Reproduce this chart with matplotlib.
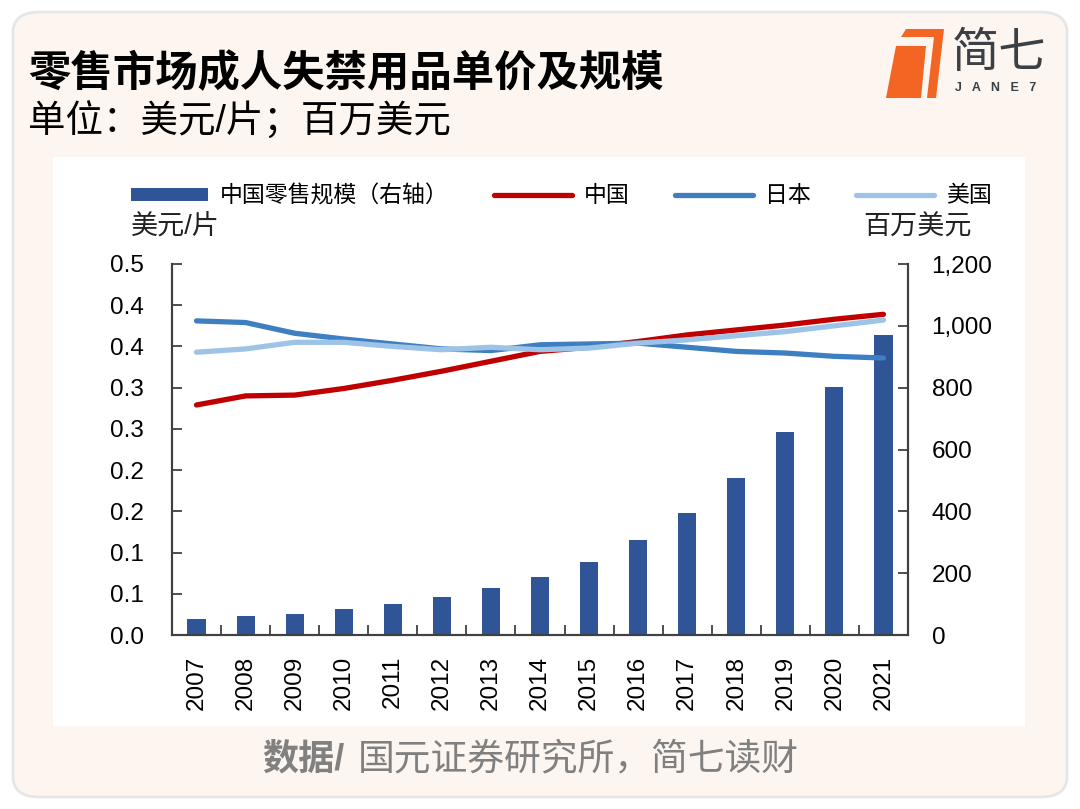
import matplotlib
matplotlib.use("Agg")
import matplotlib.pyplot as plt
from matplotlib.patches import FancyBboxPatch, Rectangle, Polygon
from matplotlib.ticker import FixedLocator, FixedFormatter, FuncFormatter

plt.rcParams['font.family'] = ['Liberation Sans', 'Noto Sans CJK SC', 'DejaVu Sans']

# 数据
years = ['2007', '2008', '2009', '2010', '2011', '2012', '2013', '2014',
         '2015', '2016', '2017', '2018', '2019', '2020', '2021']
retail_scale = [52, 61, 68, 83, 100, 123, 151, 187, 236, 306, 396, 508, 657, 801, 970]
price_china = [0.279, 0.290, 0.291, 0.299, 0.309, 0.320, 0.332, 0.344,
               0.349, 0.356, 0.364, 0.370, 0.376, 0.383, 0.389]
price_japan = [0.381, 0.379, 0.366, 0.359, 0.353, 0.347, 0.345, 0.352,
               0.353, 0.354, 0.349, 0.344, 0.342, 0.338, 0.336]
price_usa = [0.343, 0.347, 0.355, 0.355, 0.350, 0.346, 0.349, 0.346,
             0.348, 0.354, 0.358, 0.363, 0.368, 0.375, 0.382]
left_ticks = [0.0, 0.05, 0.10, 0.15, 0.20, 0.25, 0.30, 0.35, 0.40, 0.45]
left_tick_labels = ['0.0', '0.1', '0.1', '0.2', '0.2', '0.3', '0.3', '0.4', '0.4', '0.5']
right_ticks = [0, 200, 400, 600, 800, 1000, 1200]

legend_labels = ['中国零售规模（右轴）', '中国', '日本', '美国']

BAR_C = '#2f5597'
RED_C = '#c00000'
JP_C = '#3d7fc1'
US_C = '#9dc3e6'
AXIS_C = '#404040'

W, H = 1080, 809
fig = plt.figure(figsize=(W / 100, H / 100), dpi=100)
fig.patch.set_facecolor('white')


def px(x, y):
    return (x / W, 1 - y / H)


# 卡片背景
card = FancyBboxPatch(px(13, 797), 1054 / W, 785 / H,
                      boxstyle="round,pad=0,rounding_size=0.025",
                      transform=fig.transFigure, facecolor='#fdf6f0',
                      edgecolor='#e6e6e6', linewidth=2, zorder=-3)
fig.patches.append(card)
fig.patches.append(Rectangle(px(53, 726), 972 / W, 569 / H, transform=fig.transFigure,
                             facecolor='white', edgecolor='none', zorder=-2))

# 标题
fig.text(28 / W, 1 - 74 / H, '零售市场成人失禁用品单价及规模', fontsize=30.5,
         fontweight='bold', va='center', ha='left', color='black')
fig.text(28 / W, 1 - 122 / H, '单位：美元/片；百万美元', fontsize=27,
         va='center', ha='left', color='black')

# logo
fig.patches.append(Polygon([px(896, 46), px(926, 46), px(921, 98), px(886, 98)],
                           closed=True, transform=fig.transFigure,
                           facecolor='#f26522', edgecolor='none'))
fig.patches.append(Polygon([px(906, 29), px(944, 29), px(936, 98), px(927, 98),
                            px(934, 37), px(901, 37)],
                           closed=True, transform=fig.transFigure,
                           facecolor='#f26522', edgecolor='none'))
fig.text(952 / W, 1 - 55 / H, '简七', fontsize=34, color='#3a4046',
         va='center', ha='left')
fig.text(955 / W, 1 - 88 / H, 'J   A   N   E   7', fontsize=9, color='#3a4046',
         va='center', ha='left', fontweight='bold')

# 来源
fig.text(262 / W, 1 - 760 / H, '数据/', fontsize=26, fontweight='bold',
         color='#808080', va='center', ha='left')
fig.text(358 / W, 1 - 760 / H, '国元证券研究所，简七读财', fontsize=26.5,
         color='#808080', va='center', ha='left')

# 主图
ax = fig.add_axes([172 / W, 1 - 635 / H, 736 / W, 371 / H])
ax2 = ax.twinx()
ax.set_zorder(ax2.get_zorder() + 1)
ax.patch.set_visible(False)

x = list(range(len(years)))
bars = ax2.bar(x, retail_scale, width=0.37, color=BAR_C, zorder=2)
l1, = ax.plot(x, price_china, color=RED_C, lw=3.8, solid_capstyle='round')
l2, = ax.plot(x, price_japan, color=JP_C, lw=3.8, solid_capstyle='round')
l3, = ax.plot(x, price_usa, color=US_C, lw=3.8, solid_capstyle='round')

ax.set_xlim(-0.5, len(years) - 0.5)
ax.set_ylim(0, 0.45)
ax2.set_ylim(0, 1200)

ax.yaxis.set_major_locator(FixedLocator(left_ticks))
ax.yaxis.set_major_formatter(FixedFormatter(left_tick_labels))
ax2.yaxis.set_major_locator(FixedLocator(right_ticks))
ax2.yaxis.set_major_formatter(FuncFormatter(lambda v, p: f'{int(v):,}'))

ax.set_xticks(x)
ax.set_xticklabels(years, rotation=90)
ax.set_xticks([i + 0.5 for i in range(len(years) - 1)], minor=True)
ax.tick_params(axis='x', which='major', length=0, pad=15, labelsize=17.5)
ax.tick_params(axis='x', which='minor', direction='in', length=7, width=1.3, color=AXIS_C)
ax.tick_params(axis='y', direction='in', length=7, width=1.3, color=AXIS_C,
               pad=20, labelsize=17.5)
ax2.tick_params(axis='y', direction='in', length=7, width=1.3, color=AXIS_C,
                pad=17, labelsize=17.5)

for a in (ax, ax2):
    a.spines['top'].set_visible(False)
    for s in ('left', 'right', 'bottom'):
        a.spines[s].set_color(AXIS_C)
        a.spines[s].set_linewidth(1.5)

# 单位
fig.text(131 / W, 1 - 228 / H, '美元/片', fontsize=19.5, va='center', ha='left',
         color='#222222')
fig.text(972 / W, 1 - 228 / H, '百万美元', fontsize=19.5, va='center', ha='right',
         color='#222222')

# 图例
fig.legend([bars, l1, l2, l3], legend_labels, loc='center',
           bbox_to_anchor=(561 / W, 1 - 196 / H), ncol=4, frameon=False,
           fontsize=16.5, handlelength=3.4, handleheight=0.5,
           handletextpad=0.5, columnspacing=2.0)

fig.savefig('out.png', dpi=100, facecolor='white')
